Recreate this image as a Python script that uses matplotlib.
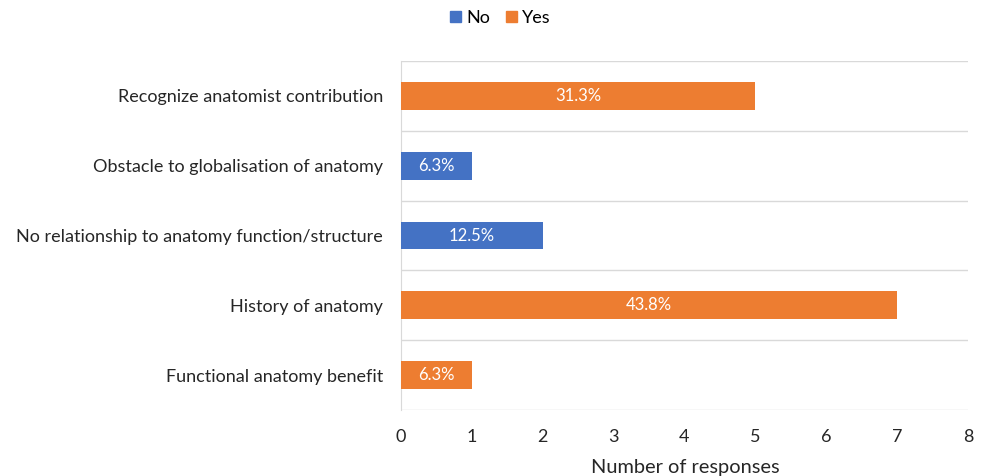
import matplotlib.pyplot as plt
from matplotlib.patches import Patch

plt.rcParams['font.family'] = ['Lato', 'DejaVu Sans']

# categories listed bottom to top
categories = ['Functional anatomy benefit', 'History of anatomy',
              'No relationship to anatomy function/structure',
              'Obstacle to globalisation of anatomy',
              'Recognize anatomist contribution']
responses = [1, 7, 2, 1, 5]
answers = ['Yes', 'Yes', 'No', 'No', 'Yes']
percent_labels = ['6.3%', '43.8%', '12.5%', '6.3%', '31.3%']

colors = {'No': '#4472C4', 'Yes': '#ED7D31'}

fig = plt.figure(figsize=(9.85, 4.76), dpi=100)
ax = fig.add_axes([0.4071, 0.1387, 0.5756, 0.7331])

y = list(range(len(categories)))
ax.barh(y, responses, height=0.4, color=[colors[a] for a in answers], zorder=3)
for yi, v, lab in zip(y, responses, percent_labels):
    ax.text(v / 2, yi, lab, ha='center', va='center', color='white', fontsize=12, zorder=4)

ax.set_xlim(0, 8)
ax.set_ylim(-0.5, len(categories) - 0.5)
ax.set_xticks(range(0, 9))
ax.set_yticks(y)
ax.set_yticklabels(categories)
# separators between categories
ax.set_yticks([i - 0.5 for i in range(len(categories) + 1)], minor=True)
ax.grid(True, axis='y', which='minor', color='#D9D9D9', linewidth=1, zorder=0)
ax.tick_params(axis='both', which='both', length=0)
ax.tick_params(axis='y', labelsize=13, pad=13, colors='#262626')
ax.tick_params(axis='x', labelsize=13, pad=14, colors='#262626')
for side in ['top', 'right', 'bottom']:
    ax.spines[side].set_visible(False)
ax.spines['left'].set_color('#D9D9D9')

fig.text(0.6955, 1 - 467 / 476, 'Number of responses', ha='center', va='center',
         fontsize=14.4, color='#262626')

handles = [Patch(color=colors['No'], label='No'), Patch(color=colors['Yes'], label='Yes')]
fig.legend(handles=handles, loc='center', bbox_to_anchor=(0.508, 1 - 18 / 476), ncol=2,
           frameon=False, fontsize=13, handlelength=0.6, handleheight=0.6,
           handletextpad=0.3, columnspacing=0.9)

fig.savefig('out.png', dpi=100)
